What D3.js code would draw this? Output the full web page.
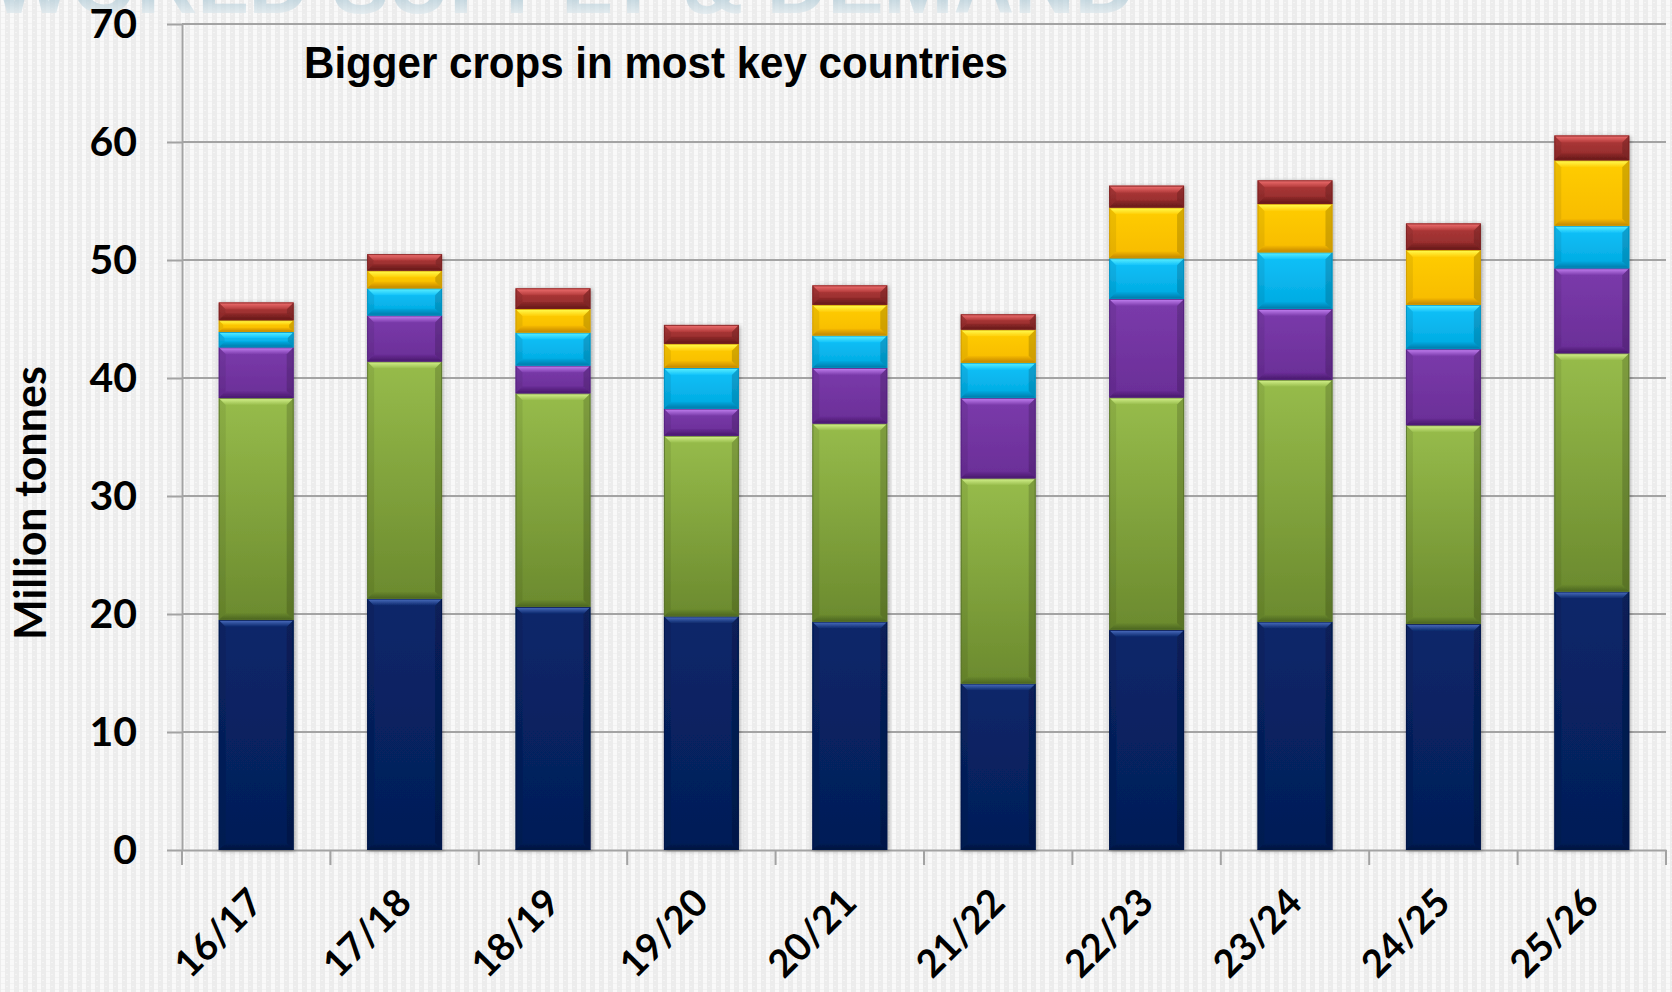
<!DOCTYPE html>
<html>
<head>
<meta charset="utf-8">
<script src="https://cdn.jsdelivr.net/npm/d3@7/dist/d3.min.js"></script>
<style>
  html, body { margin: 0; padding: 0; background: #f1f1f1; }
  svg { display: block; }
</style>
</head>
<body>
<svg id="chart" width="1672" height="992"></svg>
<script>
// Rapeseed production by key origin, million tonnes
const seasons   = ["16/17", "17/18", "18/19", "19/20", "20/21", "21/22", "22/23", "23/24", "24/25", "25/26"];
const canada    = [19.5, 21.3, 20.6, 19.8, 19.35, 14.1, 18.65, 19.35, 19.15, 21.9];
const eu        = [18.8, 20.1, 18.1, 15.3, 16.8, 17.4, 19.7, 20.5, 16.85, 20.2];
const australia = [4.3, 3.9, 2.35, 2.3, 4.7, 6.8, 8.35, 6.0, 6.45, 7.2];
const ukraine   = [1.3, 2.3, 2.8, 3.45, 2.75, 3.0, 3.45, 4.8, 3.75, 3.6];
const russia    = [1.0, 1.5, 2.0, 2.05, 2.6, 2.8, 4.3, 4.1, 4.65, 5.55];
const usa       = [1.5, 1.4, 1.75, 1.6, 1.65, 1.3, 1.85, 2.0, 2.25, 2.1];
const yTicks    = [0, 10, 20, 30, 40, 50, 60, 70];

const seriesKeys = ["canada", "eu", "australia", "ukraine", "russia", "usa"];
const seriesData = { canada, eu, australia, ukraine, russia, usa };

// fill palette per series: body gradient, bevel highlight and shade
const palette = {
  canada:    { top: "#0a276a", bottom: "#041d57", light: "#4f72c4", dark: "#02123a", edge: "#031748" },
  eu:        { top: "#97bc4b", bottom: "#6b8a2e", light: "#d8f590", dark: "#4a6420", edge: "#56702a" },
  australia: { top: "#7b3bab", bottom: "#6a2e97", light: "#c684f5", dark: "#47186a", edge: "#522080" },
  ukraine:   { top: "#12c2fa", bottom: "#00a9e0", light: "#5ef2ff", dark: "#0078a6", edge: "#0090c0" },
  russia:    { top: "#ffcd05", bottom: "#f7bb00", light: "#ffff55", dark: "#c08400", edge: "#d09a00" },
  usa:       { top: "#b23a3a", bottom: "#8f2a2a", light: "#f27272", dark: "#631818", edge: "#7a2020" }
};

const W = 1672, H = 992;
const svg = d3.select("#chart");
const defs = svg.append("defs");

// woven background texture
const pat = defs.append("pattern").attr("id", "weave")
  .attr("patternUnits", "userSpaceOnUse").attr("width", 9).attr("height", 6);
pat.append("rect").attr("width", 9).attr("height", 6).attr("fill", "#ececec");
pat.append("rect").attr("x", 1).attr("width", 4).attr("height", 6).attr("fill", "#f9f9f9");
pat.append("rect").attr("x", 1).attr("y", 5).attr("width", 4).attr("height", 1).attr("fill", "#f2f2f2");
pat.append("rect").attr("x", 6).attr("y", 2).attr("width", 2).attr("height", 1).attr("fill", "#f4f4f4");

svg.append("rect").attr("width", W).attr("height", H).attr("fill", "url(#weave)");

// faded slide heading at the very top
const hg = defs.append("linearGradient").attr("id", "headGrad")
  .attr("gradientUnits", "userSpaceOnUse").attr("x1", 0).attr("y1", -40).attr("x2", 0).attr("y2", 16);
hg.append("stop").attr("offset", 0).attr("stop-color", "#5e8ea6");
hg.append("stop").attr("offset", 0.6).attr("stop-color", "#a3c2d0");
hg.append("stop").attr("offset", 1).attr("stop-color", "#e4edf1");
svg.append("text")
  .attr("x", -8).attr("y", 13)
  .attr("font-family", "Liberation Sans, Arial, sans-serif")
  .attr("font-weight", 700).attr("font-size", 84)
  .attr("fill", "url(#headGrad)").attr("opacity", 0.7)
  .text("WORLD SUPPLY & DEMAND");

// segment gradients
seriesKeys.forEach(k => {
  const c = palette[k];
  const g = defs.append("linearGradient").attr("id", "body-" + k).attr("x1", 0).attr("y1", 0).attr("x2", 0).attr("y2", 1);
  g.append("stop").attr("offset", 0).attr("stop-color", c.top);
  g.append("stop").attr("offset", 1).attr("stop-color", c.bottom);
  const t = defs.append("linearGradient").attr("id", "hi-" + k).attr("x1", 0).attr("y1", 0).attr("x2", 0).attr("y2", 1);
  t.append("stop").attr("offset", 0).attr("stop-color", c.light);
  t.append("stop").attr("offset", 1).attr("stop-color", c.top);
  const b = defs.append("linearGradient").attr("id", "lo-" + k).attr("x1", 0).attr("y1", 0).attr("x2", 0).attr("y2", 1);
  b.append("stop").attr("offset", 0).attr("stop-color", c.bottom);
  b.append("stop").attr("offset", 1).attr("stop-color", c.dark);
});

const shadow = defs.append("filter").attr("id", "barShadow")
  .attr("x", "-20%").attr("y", "-5%").attr("width", "140%").attr("height", "110%");
shadow.append("feDropShadow").attr("dx", 1).attr("dy", 1).attr("stdDeviation", 2)
  .attr("flood-color", "#000").attr("flood-opacity", 0.35);

// scales
const plotLeft = 182, plotRight = 1666, plotTop = 24, plotBottom = 850;
const x = d3.scaleBand().domain(seasons).range([plotLeft, plotRight])
  .paddingInner(0.495).paddingOuter(0.2475);
const y = d3.scaleLinear().domain([0, 70]).range([plotBottom, plotTop]);

const gridColor = "#a3a3a3";
const labelFont = "Lato, 'Open Sans', sans-serif";

// horizontal gridlines
svg.append("g").selectAll("line")
  .data(yTicks.filter(t => t > 0))
  .join("line")
  .attr("x1", plotLeft).attr("x2", plotRight)
  .attr("y1", d => y(d)).attr("y2", d => y(d))
  .attr("stroke", gridColor).attr("stroke-width", 2);

// y axis
const yAxis = svg.append("g").attr("transform", `translate(${plotLeft},0)`)
  .call(d3.axisLeft(y).tickValues(yTicks).tickSize(15).tickSizeOuter(0).tickPadding(30).tickFormat(d3.format("d")));
yAxis.select(".domain").attr("stroke", gridColor).attr("stroke-width", 2);
yAxis.selectAll(".tick line").attr("stroke", gridColor).attr("stroke-width", 2);
yAxis.selectAll(".tick text")
  .attr("font-family", labelFont).attr("font-weight", 700)
  .attr("font-size", 41).attr("fill", "#000");

// category boundaries for the x ticks
const step = x.step(), gap = step - x.bandwidth();
const boundaries = seasons.map(s => x(s) - gap / 2).concat([x(seasons[seasons.length - 1]) + x.bandwidth() + gap / 2]);

const xAxis = svg.append("g").attr("transform", `translate(0,${plotBottom})`)
  .call(d3.axisBottom(x).tickSize(0).tickSizeOuter(0).tickPadding(0));
xAxis.select(".domain").attr("stroke", gridColor).attr("stroke-width", 2);
xAxis.selectAll(".tick text")
  .attr("font-family", labelFont).attr("font-weight", 700)
  .attr("font-size", 38).attr("fill", "#000")
  .attr("text-anchor", "end")
  .attr("dy", 0)
  .attr("transform", "translate(9,55) rotate(-45)");
xAxis.append("g").selectAll("line")
  .data(boundaries)
  .join("line")
  .attr("x1", d => d).attr("x2", d => d)
  .attr("y1", 0).attr("y2", 15)
  .attr("stroke", gridColor).attr("stroke-width", 2);

// stacked bars
const rows = seasons.map((s, i) => {
  const r = { season: s };
  seriesKeys.forEach(k => { r[k] = seriesData[k][i]; });
  return r;
});
const stacked = d3.stack().keys(seriesKeys)(rows);

const barsG = svg.append("g");
const columns = barsG.selectAll("g.col")
  .data(seasons)
  .join("g").attr("class", "col")
  .attr("filter", "url(#barShadow)");

columns.each(function (season, i) {
  const col = d3.select(this);
  stacked.forEach(layer => {
    const k = layer.key;
    const d = layer[i];
    const x0 = x(season), w = x.bandwidth();
    const y0 = y(d[1]), y1 = y(d[0]);
    const h = y1 - y0;
    const b = Math.min(7, h / 2.6);
    const g = col.append("g");
    g.append("rect").attr("x", x0).attr("y", y0).attr("width", w).attr("height", h)
      .attr("fill", `url(#body-${k})`);
    // top highlight
    g.append("polygon")
      .attr("points", [[x0, y0], [x0 + w, y0], [x0 + w - b, y0 + b], [x0 + b, y0 + b]].join(" "))
      .attr("fill", `url(#hi-${k})`);
    // bottom shade
    g.append("polygon")
      .attr("points", [[x0 + b, y1 - b], [x0 + w - b, y1 - b], [x0 + w, y1], [x0, y1]].join(" "))
      .attr("fill", `url(#lo-${k})`);
    // side shading
    g.append("polygon")
      .attr("points", [[x0, y0], [x0 + b, y0 + b], [x0 + b, y1 - b], [x0, y1]].join(" "))
      .attr("fill", "#000").attr("opacity", 0.07);
    g.append("polygon")
      .attr("points", [[x0 + w, y0], [x0 + w - b, y0 + b], [x0 + w - b, y1 - b], [x0 + w, y1]].join(" "))
      .attr("fill", "#000").attr("opacity", 0.16);
    g.append("rect").attr("x", x0 + 0.5).attr("y", y0 + 0.5).attr("width", w - 1).attr("height", h - 1)
      .attr("fill", "none").attr("stroke", palette[k].edge).attr("stroke-width", 1).attr("opacity", 0.8);
  });
});

// chart heading, set in a condensed bold face
svg.append("text")
  .attr("x", 304).attr("y", 78)
  .attr("font-family", "'Liberation Sans', Arial, sans-serif")
  .attr("font-weight", 700).attr("font-size", 45).attr("fill", "#000")
  .attr("textLength", 704).attr("lengthAdjust", "spacingAndGlyphs")
  .text("Bigger crops in most key countries");

// y axis title
svg.append("text")
  .attr("transform", "translate(46,503) rotate(-90)")
  .attr("text-anchor", "middle")
  .attr("font-family", labelFont).attr("font-weight", 700)
  .attr("font-size", 43).attr("fill", "#000")
  .text("Million tonnes");
</script>
</body>
</html>
